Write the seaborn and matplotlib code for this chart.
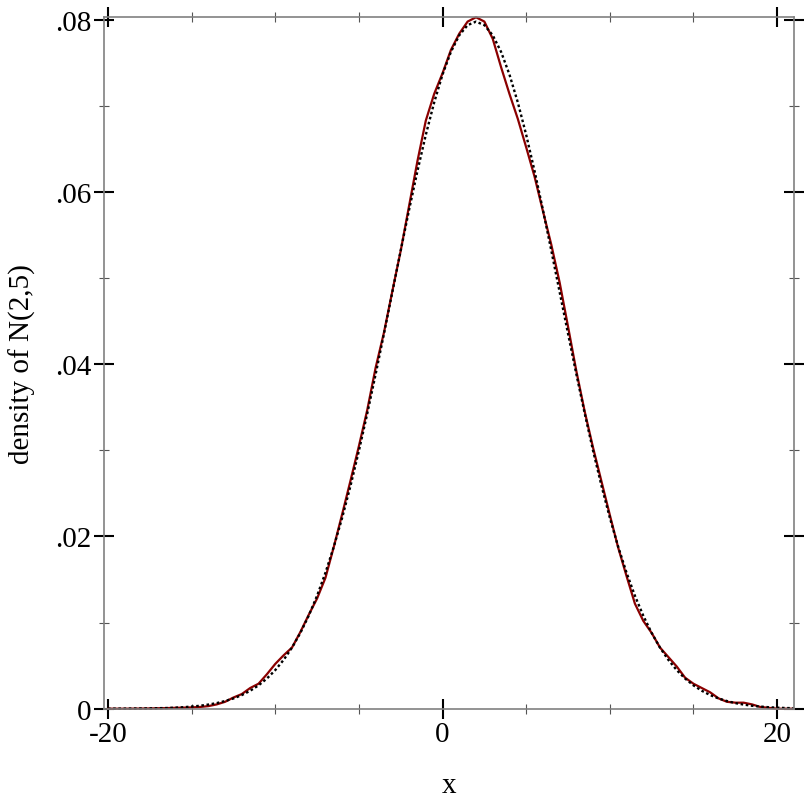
"""Density of N(2,5): sample KDE against the true pdf, Racket-plot look."""

import matplotlib

matplotlib.use("Agg")  # headless backend
import matplotlib.pyplot as plt  # noqa: E402
import pandas as pd  # noqa: E402
import seaborn as sns  # noqa: E402
from matplotlib.ticker import FixedLocator, FixedFormatter, MultipleLocator  # noqa: E402

# x grid (half-unit steps) shared by both curves
x_vals = [v / 2 for v in range(-40, 43)]

# dotted curve: density of N(2,5)
pdf_vals = [
    0.00000, 0.00001, 0.00001, 0.00002, 0.00003, 0.00004, 0.00006, 0.00008,
    0.00012, 0.00017, 0.00025, 0.00034, 0.00048, 0.00065, 0.00089, 0.00119,
    0.00158, 0.00208, 0.00271, 0.00350, 0.00448, 0.00567, 0.00709, 0.00880,
    0.01080, 0.01312, 0.01579, 0.01881, 0.02218, 0.02590, 0.02995, 0.03428,
    0.03884, 0.04357, 0.04839, 0.05322, 0.05794, 0.06245, 0.06665, 0.07041,
    0.07365, 0.07628, 0.07821, 0.07939, 0.07979, 0.07939, 0.07821, 0.07628,
    0.07365, 0.07041, 0.06665, 0.06245, 0.05794, 0.05322, 0.04839, 0.04357,
    0.03884, 0.03428, 0.02995, 0.02590, 0.02218, 0.01881, 0.01579, 0.01312,
    0.01080, 0.00880, 0.00709, 0.00567, 0.00448, 0.00350, 0.00271, 0.00208,
    0.00158, 0.00119, 0.00089, 0.00065, 0.00048, 0.00034, 0.00025, 0.00017,
    0.00012, 0.00008, 0.00006,
]

# red curve: kernel density estimate of the sample
kde_vals = [
    0.00000, 0.00000, 0.00000, 0.00001, 0.00002, 0.00003, 0.00005, 0.00007,
    0.00010, 0.00012, 0.00015, 0.00020, 0.00030, 0.00050, 0.00080, 0.00130,
    0.00170, 0.00240, 0.00290, 0.00400, 0.00520, 0.00620, 0.00710, 0.00890,
    0.01090, 0.01280, 0.01520, 0.01880, 0.02260, 0.02650, 0.03050, 0.03470,
    0.03960, 0.04370, 0.04850, 0.05320, 0.05840, 0.06360, 0.06830, 0.07140,
    0.07380, 0.07650, 0.07840, 0.07980, 0.08030, 0.07980, 0.07780, 0.07450,
    0.07140, 0.06850, 0.06520, 0.06180, 0.05780, 0.05390, 0.04950, 0.04440,
    0.03920, 0.03450, 0.03030, 0.02640, 0.02250, 0.01870, 0.01540, 0.01220,
    0.01020, 0.00880, 0.00710, 0.00600, 0.00490, 0.00360, 0.00290, 0.00240,
    0.00190, 0.00120, 0.00080, 0.00070, 0.00070, 0.00050, 0.00020, 0.00010,
    0.00000, 0.00000, 0.00000,
]

x_ticks = [-20, 0, 20]
x_tick_labels = ["-20", "0", "20"]
y_ticks = [0, 0.02, 0.04, 0.06, 0.08]
y_tick_labels = ["0", ".02", ".04", ".06", ".08"]

sns.set_style("white")
plt.rcParams["font.family"] = ["Liberation Serif", "DejaVu Serif"]
plt.rcParams["font.size"] = 21
plt.rcParams["text.color"] = "black"
plt.rcParams["axes.labelcolor"] = "black"
plt.rcParams["xtick.labelcolor"] = "black"
plt.rcParams["ytick.labelcolor"] = "black"

df = pd.DataFrame({"x": x_vals, "pdf": pdf_vals, "kde": kde_vals})

W = 812
fig = plt.figure(figsize=(W / 100, W / 100), dpi=100)
left, right, top, bottom = 104.3, 794.0, 18.0, 709.7
ax = fig.add_axes([left / W, (W - bottom) / W, (right - left) / W, (bottom - top) / W])

sns.lineplot(data=df, x="x", y="kde", ax=ax, color="#8b0000", linewidth=1.6,
             clip_on=False)
sns.lineplot(data=df, x="x", y="pdf", ax=ax, color="black", linewidth=1.7,
             linestyle=(0, (1.1, 1.1)), clip_on=False)

ax.set_xlim(-20.22, 21.01)
ax.set_ylim(0, 0.08033)

ax.xaxis.set_major_locator(FixedLocator(x_ticks))
ax.xaxis.set_major_formatter(FixedFormatter(x_tick_labels))
ax.xaxis.set_minor_locator(MultipleLocator(5))
ax.yaxis.set_major_locator(FixedLocator(y_ticks))
ax.yaxis.set_major_formatter(FixedFormatter(y_tick_labels))
ax.yaxis.set_minor_locator(MultipleLocator(0.01))

ax.tick_params(which="both", direction="inout", top=True, right=True,
               bottom=True, left=True, labeltop=False, labelright=False)
ax.tick_params(which="major", length=14.4, width=1.5, color="black", pad=2,
               labelsize=21)
ax.tick_params(which="minor", length=7.2, width=0.8, color="#555555")

for spine in ax.spines.values():
    spine.set_color("#808080")
    spine.set_linewidth(1.2)

ax.set_xlabel("x", fontsize=21, labelpad=18)
ax.set_ylabel("density of N(2,5)", fontsize=21, labelpad=14)

fig.savefig("out.png", dpi=100)
plt.close(fig)
